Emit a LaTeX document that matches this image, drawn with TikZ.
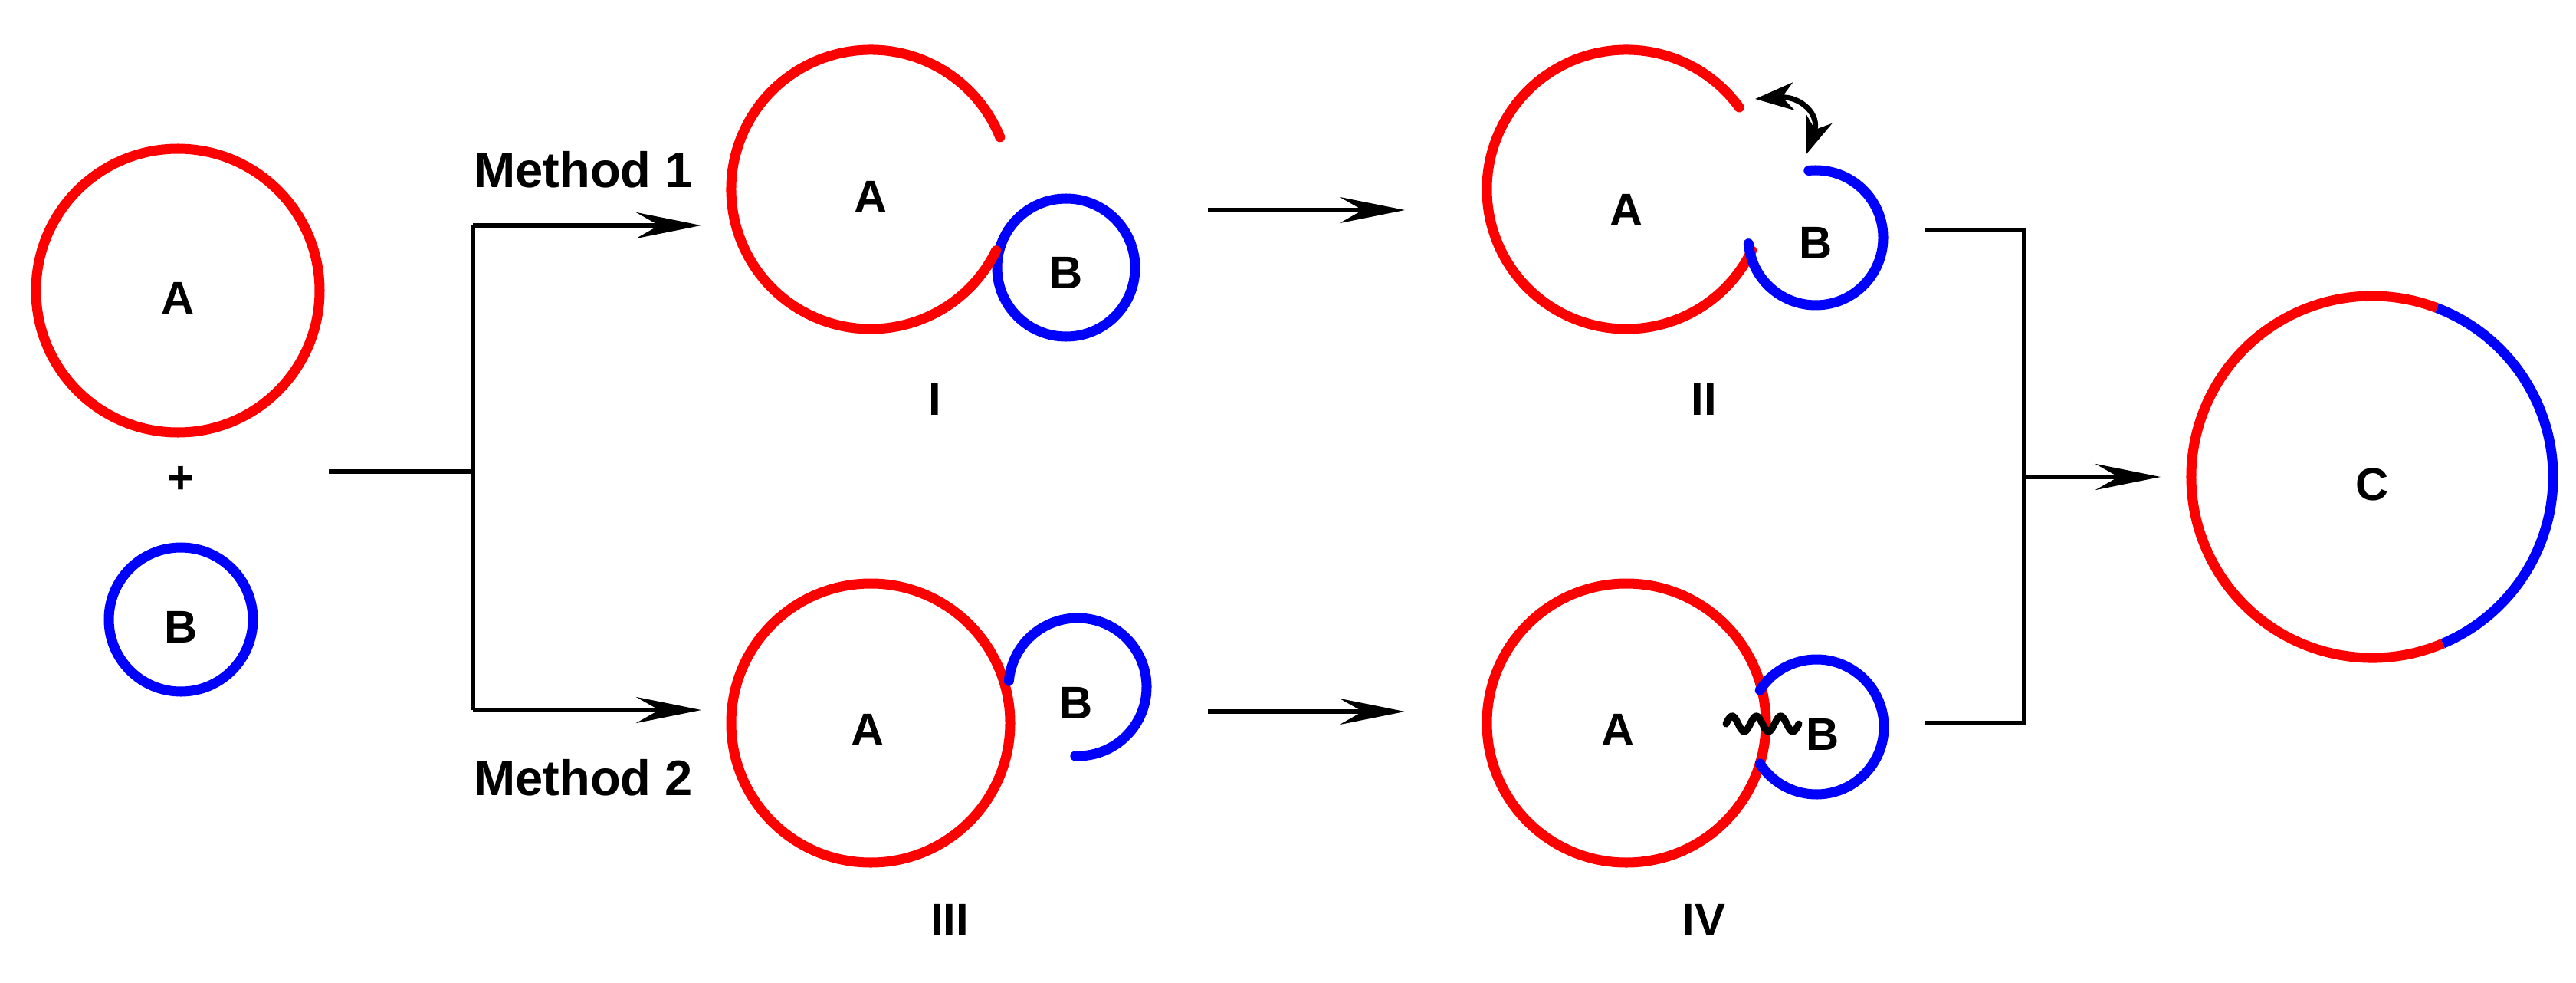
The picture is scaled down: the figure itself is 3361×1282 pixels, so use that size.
\documentclass[tikz,border=0pt]{standalone}
\usepackage{fontspec}
\setmainfont{Liberation Sans}
\usetikzlibrary{arrows.meta}
\begin{document}
\begin{tikzpicture}[x=0.01cm,y=-0.01cm,
  lbl/.style={font=\fontsize{17}{19}\selectfont\bfseries},
  mlbl/.style={font=\fontsize{18.5}{20}\selectfont\bfseries},
  ring/.style={line width=3.7pt,line cap=round},
  rA/.style={ring,red},
  rB/.style={ring,blue},
  conn/.style={line width=1.8pt},
  arr/.style={conn,-{Stealth[length=0.85cm,width=0.34cm,inset=0.3cm]}}]
\useasboundingbox (0,0) rectangle (3361,1282);
% left
\draw[rA] (232,379) circle (185);
\node[lbl] (la) at (232,389) {A};
\node[lbl] (plus) at (236,626) {+};
\draw[rB] (236,808) circle (94);
\node[lbl] (lb) at (236,818) {B};
% branch
\coordinate (s) at (429,615);
\coordinate (j) at (617,615);
\coordinate (t1) at (617,294);
\coordinate (t2) at (617,926);
\coordinate (e1) at (915,294);
\coordinate (e2) at (915,926);
\draw[conn] (s) -- (j);
\draw[conn] (t1) -- (t2);
\draw[arr] (t1) -- (e1);
\draw[arr] (t2) -- (e2);
\node[mlbl] (m1) at (761,221) {Method 1};
\node[mlbl] (m2) at (761,1014) {Method 2};
% I
\draw[rB] (1391,349) circle (90);
\draw[rA] (1136,247) ++(26:182) arc[start angle=26,end angle=338,radius=182];
\node[lbl] (Ia) at (1136,257) {A};
\node[lbl] (Ib) at (1391,356) {B};
\node[lbl] (I) at (1220,521) {I};
\coordinate (a1s) at (1576,274); \coordinate (a1e) at (1833,274);
\draw[arr] (a1s) -- (a1e);
% II
\draw[rA] (2122,247) ++(26:182) arc[start angle=26,end angle=324,radius=182];
\draw[rB] (2369,310) ++(-96:88) arc[start angle=-96,end angle=175,radius=88];
\coordinate (c1) at (2290,129); \coordinate (c2) at (2356,202);
\draw[line width=2pt,{Stealth[length=0.5cm,width=0.36cm,inset=0.15cm]}-{Stealth[length=0.5cm,width=0.36cm,inset=0.15cm]}]
  (c1) .. controls (2350,125) and (2375,150) .. (c2);
\node[lbl] (IIa) at (2122,274) {A};
\node[lbl] (IIb) at (2369,317) {B};
\node[lbl] (II) at (2223,521) {II};
% III
\draw[rA] (1136,943) circle (182);
\draw[rB] (1406,896) ++(-175:90) arc[start angle=-175,end angle=92,radius=90];
\node[lbl] (IIIa) at (1132,952) {A};
\node[lbl] (IIIb) at (1404,917) {B};
\node[lbl] (III) at (1239,1200) {III};
\coordinate (a2s) at (1576,928); \coordinate (a2e) at (1833,928);
\draw[arr] (a2s) -- (a2e);
% IV
\draw[rA] (2122,943) circle (182);
\draw[rB] (2370,948) ++(-147:88) arc[start angle=-147,end angle=147,radius=88];
\draw[line width=2.6pt,line cap=round] plot[domain=0:1,samples=80] ({2252+95*\x},{944-10*sin(3*360*\x)});
\node[lbl] (IVa) at (2111,952) {A};
\node[lbl] (IVb) at (2378,958) {B};
\node[lbl] (IV) at (2223,1200) {IV};
% bracket
\coordinate (b1) at (2512,300); \coordinate (b2) at (2641,300);
\coordinate (b3) at (2641,943); \coordinate (b4) at (2512,943);
\coordinate (bm) at (2641,622); \coordinate (be) at (2819,622);
\draw[conn] (b1) -- (b2) -- (b3) -- (b4);
\draw[arr] (bm) -- (be);
% C
\draw[rA,line cap=butt] (3095,622) ++(67:236) arc[start angle=67,end angle=291,radius=236];
\draw[rB,line cap=butt] (3095,622) ++(-69:236) arc[start angle=-69,end angle=67,radius=236];
\node[lbl] (C) at (3095,632) {C};
\end{tikzpicture}
\end{document}
